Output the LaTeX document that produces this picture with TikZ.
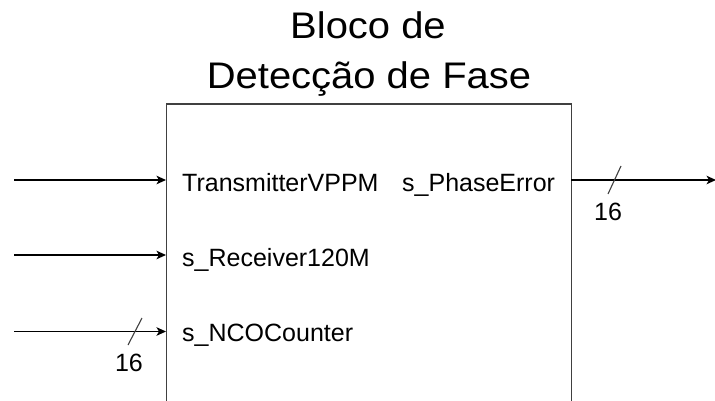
\documentclass[tikz,border=0pt]{standalone}
\usepackage{fontspec}
\setmainfont{Liberation Sans}
\newfontfamily\titlefnt[FakeStretch=1.08]{Liberation Sans}
\usetikzlibrary{arrows.meta}
\begin{document}
\begin{tikzpicture}[x=1pt,y=-1pt,
  sig/.style={line width=1.3pt,-{Stealth[length=9.5pt,width=8.5pt,inset=2.5pt]}},
  lbl/.style={anchor=base west,inner sep=0pt,font=\fontsize{25}{29}\selectfont},
  bus/.style={line width=1.1pt,draw=black!75},
  num/.style={inner sep=0pt,font=\fontsize{25}{29}\selectfont},
  title/.style={inner sep=0pt,font=\titlefnt\fontsize{37}{45}\selectfont}]
\useasboundingbox (0,0) rectangle (715,401);
\node[draw=black!75,line width=1.3pt,anchor=north west,minimum width=405pt,minimum height=330pt,inner sep=0pt] (box) at (166,103.5) {};
\node[title,anchor=base] (t1) at (368,39) {Bloco de};
\node[title,anchor=base] (t2) at (369,88.5) {Detecção de Fase};
% inputs
\coordinate (i1) at (14,180);
\coordinate (i2) at (14,255);
\coordinate (i3) at (14,331.5);
\coordinate (p1) at (166,180);
\coordinate (p2) at (166,255);
\coordinate (p3) at (166,331.5);
\draw[sig] (i1) -- (p1);
\draw[sig] (i2) -- (p2);
\draw[sig] (i3) -- (p3);
\coordinate (o1) at (571,180);
\coordinate (o2) at (716,180);
\draw[sig] (o1) -- (o2);
% bus marks
\coordinate (s1a) at (128,345);
\coordinate (s1b) at (142,318);
\draw[bus] (s1a) -- (s1b);
\node[num] (n1) at (129,363) {16};
\coordinate (s2a) at (608,194);
\coordinate (s2b) at (621,166);
\draw[bus] (s2a) -- (s2b);
\node[num] (n2) at (608,212) {16};
% labels
\node[lbl] (l1) at (182,191.5) {TransmitterVPPM};
\node[lbl] (l2) at (182,266.5) {s\_Receiver120M};
\node[lbl] (l3) at (182,341.5) {s\_NCOCounter};
\node[lbl] (l4) at (402,191.5) {s\_PhaseError};
\end{tikzpicture}
\end{document}
